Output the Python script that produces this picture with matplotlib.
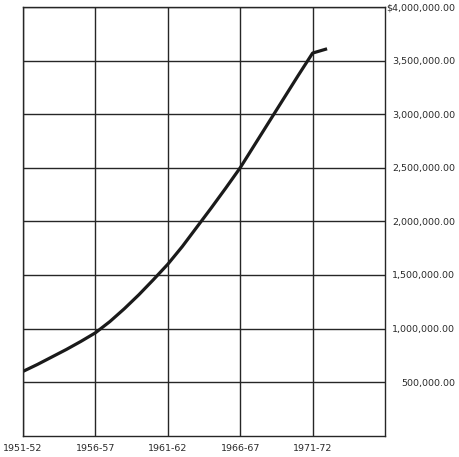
import matplotlib
matplotlib.use("Agg")
from matplotlib import pyplot as plt
from matplotlib.ticker import FuncFormatter

# values (one point per fiscal year)
years = [1951, 1952, 1953, 1954, 1955, 1956, 1957, 1958, 1959, 1960, 1961,
         1962, 1963, 1964, 1965, 1966, 1967, 1968, 1969, 1970, 1971, 1972]
amount = [600000, 665000, 735000, 805000, 880000, 960000, 1065000, 1185000,
          1315000, 1455000, 1600000, 1765000, 1945000, 2125000, 2310000,
          2500000, 2715000, 2930000, 3145000, 3360000, 3570000, 3610000]

tick_years = [1951, 1956, 1961, 1966, 1971]
tick_names = ["1951-52", "1956-57", "1961-62", "1966-67", "1971-72"]
y_ticks = [500000, 1000000, 1500000, 2000000, 2500000, 3000000, 3500000, 4000000]

fig = plt.figure(figsize=(4.59, 4.57), dpi=100)
ax = fig.add_axes([0.0501, 0.0466, 0.7887, 0.9381])

ax.plot(years, amount, color="#1a1a1a", linewidth=2.3, solid_capstyle="butt")

ax.set_xlim(1951, 1976)
ax.set_ylim(0, 4000000)
ax.set_xticks(tick_years)
ax.set_xticklabels(tick_names, fontsize=6.8, color="#2a2a2a")
ax.set_yticks(y_ticks)


def money(v, pos):
    s = "{:,.2f}".format(v)
    if v >= 4000000:
        s = "$" + s
    return s


ax.yaxis.set_major_formatter(FuncFormatter(money))
ax.yaxis.tick_right()
ax.tick_params(axis="y", length=0, pad=50.4, labelsize=6.8, labelcolor="#2a2a2a")
for lab in ax.get_yticklabels():
    lab.set_horizontalalignment("right")
ax.tick_params(axis="x", length=0, pad=6)

ax.grid(True, color="#262626", linewidth=1.0)
for sp in ax.spines.values():
    sp.set_color("#262626")
    sp.set_linewidth(1.0)

fig.savefig("out.png", dpi=100, facecolor="white")
